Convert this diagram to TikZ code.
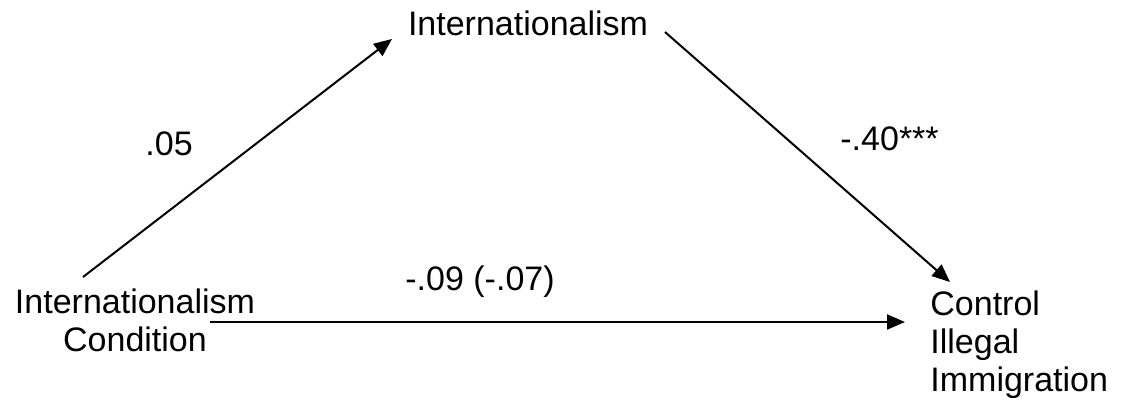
\documentclass[tikz,border=0pt]{standalone}
\usepackage{fontspec}
\setmainfont{Liberation Sans}
\usetikzlibrary{arrows.meta}
\begin{document}
\begin{tikzpicture}[x=0.5pt,y=-0.5pt,
  lbl/.style={inner sep=0pt, font=\fontsize{17pt}{19.2pt}\selectfont},
  conn/.style={line width=1pt, -{Triangle[length=9pt,width=7.5pt]}}]
\useasboundingbox (0,0) rectangle (1122,402);
\node[lbl, anchor=base] (mid) at (528,35) {Internationalism};
\node[lbl, anchor=north, align=center] (cond) at (135,288) {Internationalism\\Condition};
\node[lbl, anchor=north west, align=left] (ctrl) at (930,290) {Control\\Illegal\\Immigration};
\node[lbl, anchor=base west] (la) at (145,155) {.05};
\node[lbl, anchor=base west] (lb) at (840,150) {-.40***};
\node[lbl, anchor=base west] (lc) at (405,290) {-.09 (-.07)};
\coordinate (s1) at (83,277);
\coordinate (e1) at (392,39);
\coordinate (s2) at (665,32);
\coordinate (e2) at (950,282);
\coordinate (s3) at (210,322);
\coordinate (e3) at (905,322);
\draw[conn] (s1) -- (e1);
\draw[conn] (s2) -- (e2);
\draw[conn] (s3) -- (e3);
\end{tikzpicture}
\end{document}
